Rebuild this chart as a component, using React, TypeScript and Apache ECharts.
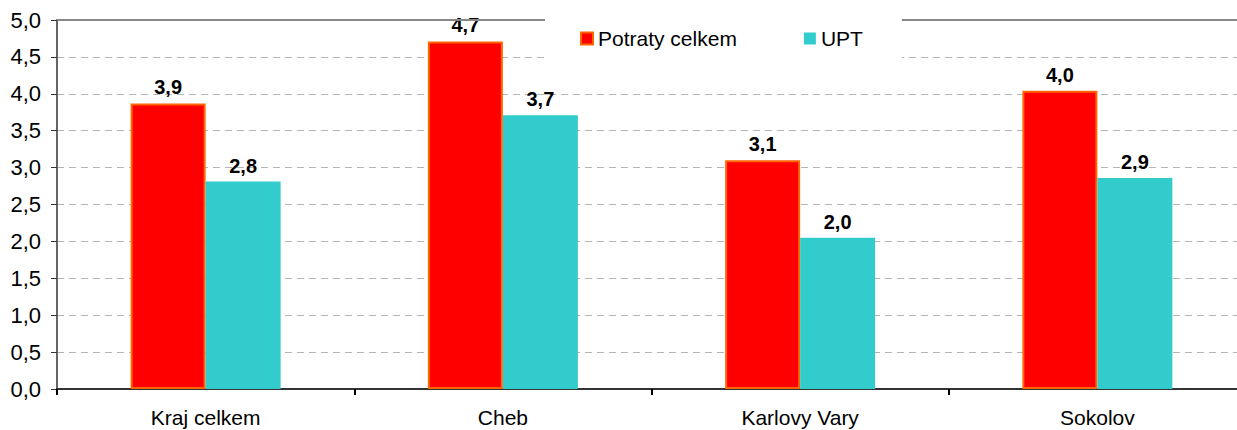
import React, { useEffect, useRef } from "react";
import * as echarts from "echarts";

const categories = ["Kraj celkem", "Cheb", "Karlovy Vary", "Sokolov"];
const potratyCelkem = [3.87, 4.71, 3.1, 4.04];
const upt = [2.81, 3.71, 2.05, 2.86];
const seriesNames = ["Potraty celkem", "UPT"];

const FONT = "'Liberation Sans', Arial, sans-serif";
const fmt = (v: number) => v.toFixed(1).replace(".", ",");

export default function App() {
  const ref = useRef<HTMLDivElement>(null);
  useEffect(() => {
    if (!ref.current) return;
    const chart = echarts.init(ref.current, undefined, { renderer: "svg" });
    chart.setOption({
      animation: false,
      textStyle: { fontFamily: FONT },
      grid: { left: 57, width: 1189, top: 20, bottom: 41, containLabel: false, outerBoundsMode: "none" },
      legend: {
        left: 545,
        top: 12,
        padding: [16, 39, 16, 35],
        backgroundColor: "#ffffff",
        itemWidth: 12,
        itemHeight: 12,
        itemGap: 67,
        z: 10,
        textStyle: { fontSize: 21, color: "#000", fontFamily: FONT },
        data: [
          { name: seriesNames[0], icon: "rect", itemStyle: { color: "#ff0000", borderColor: "#ff6600", borderWidth: 2 } },
          { name: seriesNames[1], icon: "rect", itemStyle: { color: "#33cccc", borderWidth: 0 } },
        ],
      },
      xAxis: {
        type: "category",
        data: categories,
        axisLine: { lineStyle: { color: "#333", width: 2 } },
        axisTick: { show: true, length: 6, lineStyle: { color: "#000", width: 2 } },
        axisLabel: { fontSize: 21, color: "#000", margin: 18, fontFamily: FONT },
      },
      yAxis: {
        type: "value",
        min: 0,
        max: 5,
        interval: 0.5,
        axisLine: { show: true, lineStyle: { color: "#666", width: 2 } },
        axisTick: { show: true, length: 6, lineStyle: { color: "#333", width: 1 } },
        axisLabel: {
          fontSize: 22,
          color: "#000",
          margin: 16,
          fontFamily: FONT,
          formatter: (v: number) => fmt(v),
        },
        splitLine: {
          show: true,
          lineStyle: { color: "#b4b4b4", type: [7, 5], width: 1 },
        },
      },
      series: [
        {
          name: seriesNames[0],
          type: "bar",
          data: potratyCelkem,
          barWidth: 75,
          barGap: "0%",
          itemStyle: { color: "#ff0000", borderColor: "#ff6600", borderWidth: 2 },
          label: {
            show: true,
            position: "top",
            distance: 6,
            fontSize: 20,
            fontWeight: "bold",
            color: "#000",
            fontFamily: FONT,
            formatter: (p: any) => fmt(p.value),
          },
          markLine: {
            silent: true,
            symbol: "none",
            label: { show: false },
            lineStyle: { color: "#888", type: "solid", width: 2 },
            data: [{ yAxis: 5 }],
          },
        },
        {
          name: seriesNames[1],
          type: "bar",
          data: upt,
          barWidth: 75,
          itemStyle: { color: "#33cccc" },
          label: {
            show: true,
            position: "top",
            distance: 6,
            fontSize: 20,
            fontWeight: "bold",
            color: "#000",
            fontFamily: FONT,
            formatter: (p: any) => fmt(p.value),
          },
        },
      ],
    });
    return () => chart.dispose();
  }, []);
  return <div ref={ref} style={{ width: 1237, height: 430, position: "absolute", left: 0, top: 0 }} />;
}
